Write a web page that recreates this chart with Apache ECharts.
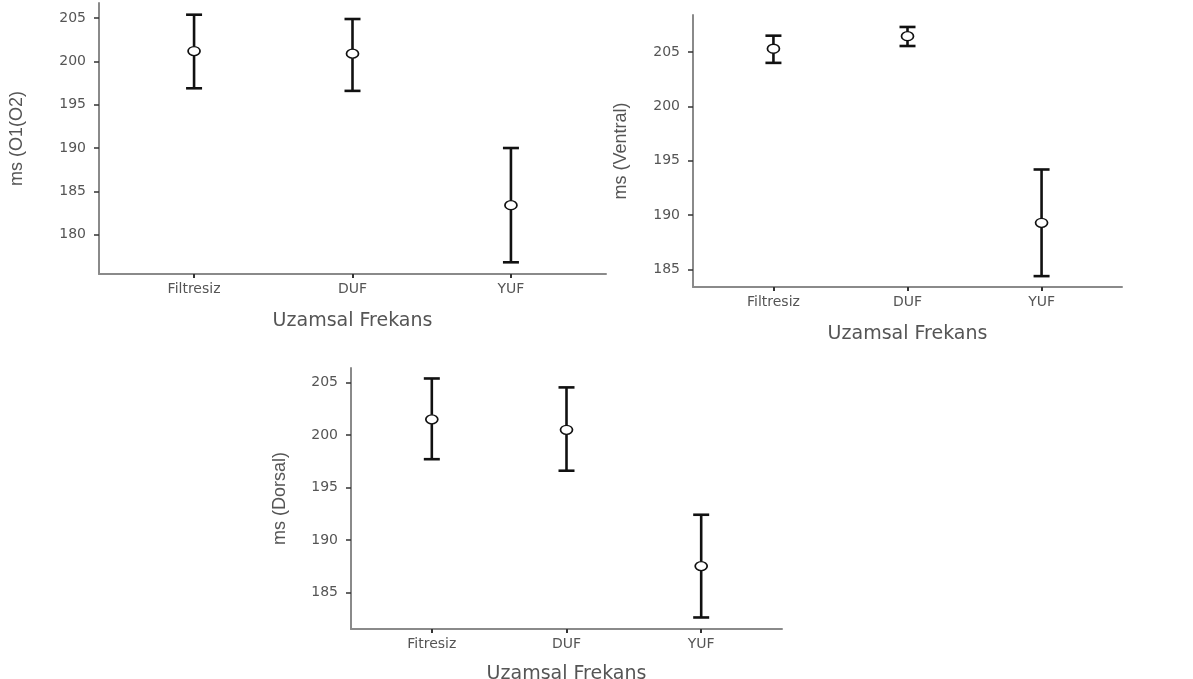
<!DOCTYPE html>
<html>
<head>
<meta charset="utf-8">
<script src="https://cdn.jsdelivr.net/npm/echarts@6/dist/echarts.min.js"></script>
<style>
html,body{margin:0;padding:0;background:#fff;}
#chart{width:1193px;height:679px;}
</style>
</head>
<body>
<div id="chart"></div>
<script>
// ---- data ----
const categoriesA = ['Filtresiz', 'DUF', 'YUF'];
const categoriesB = ['Filtresiz', 'DUF', 'YUF'];
const categoriesC = ['Fitresiz', 'DUF', 'YUF'];

const yTicksA = [180, 185, 190, 195, 200, 205];
const yTicksB = [185, 190, 195, 200, 205];
const yTicksC = [185, 190, 195, 200, 205];

// Panel A: ms (O1(O2)
const meanA  = [201.2, 200.9, 183.4];
const lowerA = [196.9, 196.6, 176.8];
const upperA = [205.4, 204.9, 190.0];

// Panel B: ms (Ventral)
const meanB  = [205.3, 206.45, 189.3];
const lowerB = [204.0, 205.55, 184.4];
const upperB = [206.5, 207.3, 194.2];

// Panel C: ms (Dorsal)
const meanC  = [201.5, 200.5, 187.5];
const lowerC = [197.7, 196.6, 182.6];
const upperC = [205.4, 204.55, 192.4];

const yTitleA = 'ms (O1(O2)';
const yTitleB = 'ms (Ventral)';
const yTitleC = 'ms (Dorsal)';
const xTitle = 'Uzamsal Frekans';

// ---- styling helpers ----
const axisGrey = '#8a8a8a';
const textGrey = '#555555';
const tickFont = 'DejaVu Sans';
const yNameFont = 'Liberation Sans';

function xAxisFor(gridIndex, cats, nameGap) {
  return {
    type: 'value', gridIndex: gridIndex, min: -0.6, max: 2.6,
    name: xTitle, nameLocation: 'middle', nameGap: nameGap,
    nameTextStyle: {color: textGrey, fontFamily: 'DejaVu Sans', fontSize: 19},
    axisLine: {show: true, onZero: false, lineStyle: {color: axisGrey, width: 2}},
    axisTick: {show: true, customValues: [0, 1, 2], length: 4, lineStyle: {color: '#333', width: 2}},
    axisLabel: {customValues: [0, 1, 2], margin: 8, color: textGrey, fontFamily: tickFont, fontSize: 14,
      formatter: function (v) { return cats[Math.round(v)]; }},
    splitLine: {show: false}
  };
}
function yAxisFor(gridIndex, ticks, min, max, title, nameGap) {
  return {
    type: 'value', gridIndex: gridIndex, min: min, max: max,
    name: title, nameLocation: 'middle', nameGap: nameGap, nameRotate: 90,
    nameTextStyle: {color: textGrey, fontFamily: yNameFont, fontSize: 18},
    axisLine: {show: true, onZero: false, lineStyle: {color: axisGrey, width: 2}},
    axisTick: {show: true, customValues: ticks, length: 5, lineStyle: {color: '#333', width: 1.5}},
    axisLabel: {customValues: ticks, margin: 13, color: textGrey, fontFamily: tickFont, fontSize: 14},
    splitLine: {show: false}
  };
}

function errorData(lower, upper) {
  return lower.map(function (lo, i) { return [i, lo, upper[i]]; });
}
function meanData(mean) {
  return mean.map(function (m, i) { return [i, m]; });
}

function renderErr(params, api) {
  const x = api.value(0);
  const lo = api.coord([x, api.value(1)]);
  const hi = api.coord([x, api.value(2)]);
  const half = 8;
  const st = {stroke: '#111', lineWidth: 2.6, fill: null};
  return {
    type: 'group',
    children: [
      {type: 'line', shape: {x1: lo[0], y1: lo[1], x2: hi[0], y2: hi[1]}, style: st},
      {type: 'line', shape: {x1: hi[0] - half, y1: hi[1], x2: hi[0] + half, y2: hi[1]}, style: st},
      {type: 'line', shape: {x1: lo[0] - half, y1: lo[1], x2: lo[0] + half, y2: lo[1]}, style: st}
    ]
  };
}

function seriesFor(idx, mean, lower, upper) {
  return [
    {type: 'custom', xAxisIndex: idx, yAxisIndex: idx, renderItem: renderErr,
      data: errorData(lower, upper), encode: {x: 0, y: [1, 2]}, z: 2, silent: true},
    {type: 'scatter', xAxisIndex: idx, yAxisIndex: idx, data: meanData(mean),
      symbol: 'circle', symbolSize: [12, 9], z: 5, silent: true,
      itemStyle: {color: '#ffffff', borderColor: '#111', borderWidth: 1.5, opacity: 1}}
  ];
}

const chart = echarts.init(document.getElementById('chart'), null, {renderer: 'canvas'});
chart.setOption({
  animation: false,
  backgroundColor: '#ffffff',
  grid: [
    {left: 99, top: 3, right: 587, bottom: 405, containLabel: false, outerBoundsMode: 'none'},
    {left: 693, top: 15, right: 71, bottom: 392, containLabel: false, outerBoundsMode: 'none'},
    {left: 351, top: 368, right: 411, bottom: 50, containLabel: false, outerBoundsMode: 'none'}
  ],
  xAxis: [
    xAxisFor(0, categoriesA, 38),
    xAxisFor(1, categoriesB, 38),
    xAxisFor(2, categoriesC, 36)
  ],
  yAxis: [
    yAxisFor(0, yTicksA, 175.45, 206.75, yTitleA, 73),
    yAxisFor(1, yTicksB, 183.4, 208.4, yTitleB, 63),
    yAxisFor(2, yTicksC, 181.5, 206.4, yTitleC, 62)
  ],
  series: [].concat(
    seriesFor(0, meanA, lowerA, upperA),
    seriesFor(1, meanB, lowerB, upperB),
    seriesFor(2, meanC, lowerC, upperC)
  )
});
</script>
</body>
</html>
